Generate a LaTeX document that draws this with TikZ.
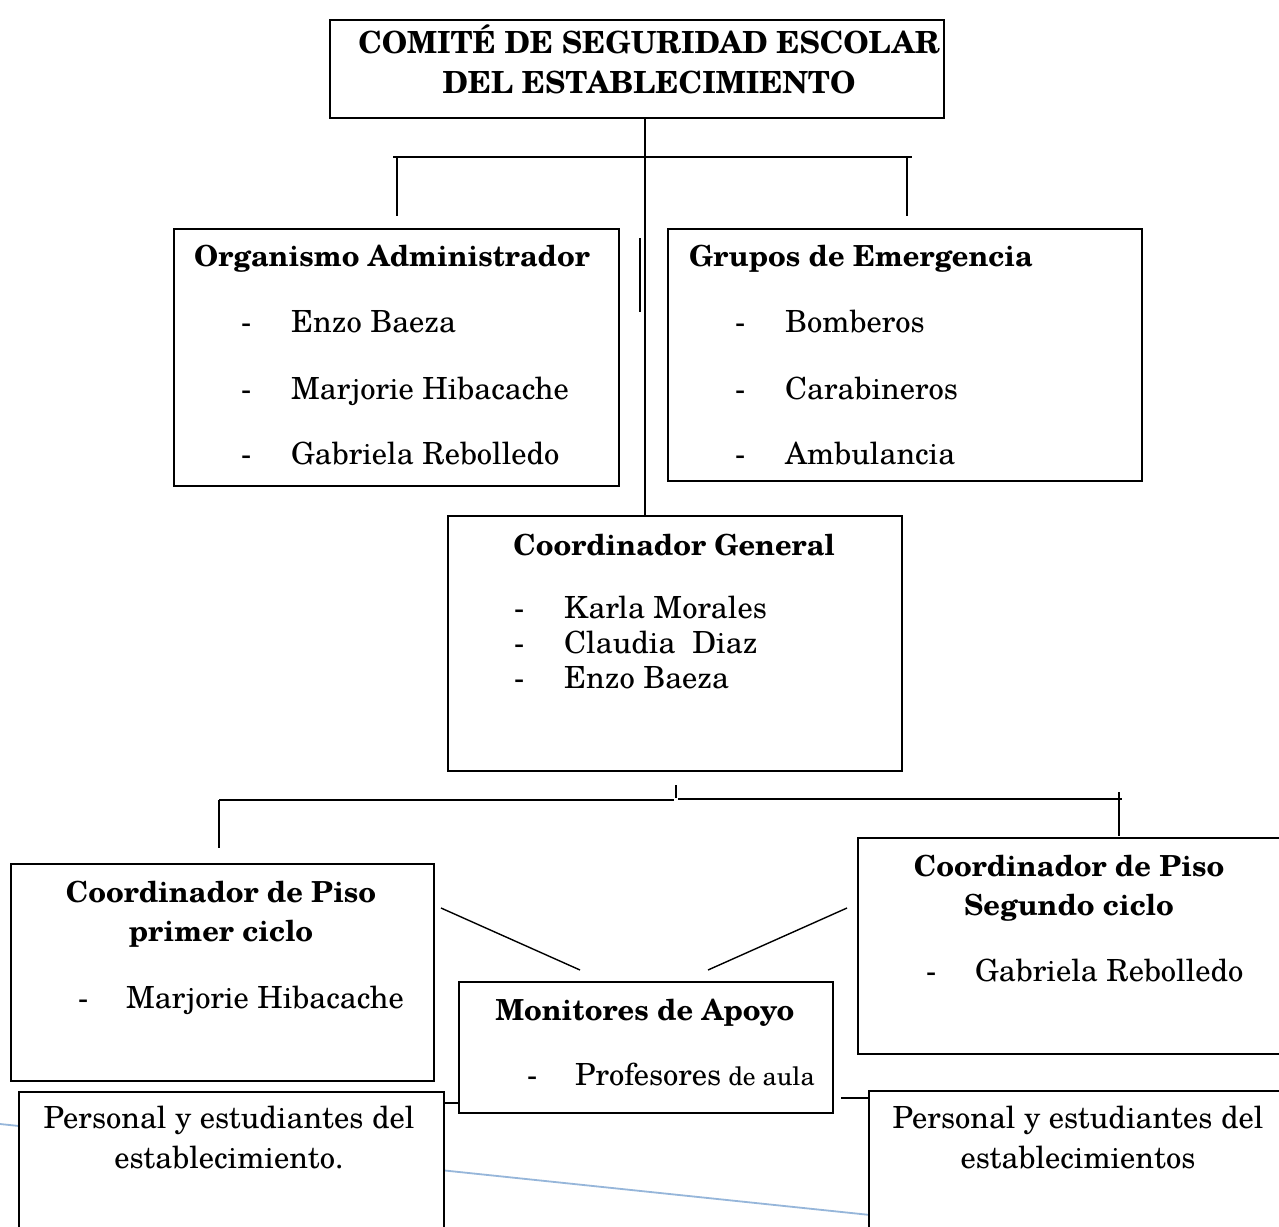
\documentclass[tikz,border=0pt]{standalone}
\usepackage{fontspec}
\setmainfont{TeX Gyre Schola}
\definecolor{paleblue}{RGB}{150,182,218}
\newcommand\txt{\fontsize{30.5}{36}\selectfont}
\newcommand\headtxt{\fontsize{29}{35}\selectfont\bfseries}
\newcommand\toptxt{\fontsize{30.5}{36}\selectfont\bfseries}
\newcommand\smalltxt{\fontsize{25.5}{30}\selectfont}
\tikzset{
  box/.style={draw, line width=1.6pt, fill=white, inner sep=0pt, anchor=north west},
  conn/.style={line width=1.4pt},
  lbl/.style={inner sep=0pt, font=\txt},
  head/.style={inner sep=0pt, font=\headtxt},
}
\begin{document}
\begin{tikzpicture}[x=1pt,y=-1pt]
\useasboundingbox (0,0) rectangle (1279,1226);
\fill[white] (0,0) rectangle (1279,1226);

% pale blue line (behind)
\coordinate (bl1) at (0,1124);
\coordinate (bl2) at (880,1216);
\draw[paleblue, line width=1.8pt] (bl1) -- (bl2);

% boxes
\node[box, minimum width=614pt, minimum height=98pt] (top) at (329,19) {};
\node[box, minimum width=445pt, minimum height=257pt] (org) at (173,228) {};
\node[box, minimum width=474pt, minimum height=252pt] (grp) at (667,228) {};
\node[box, minimum width=454pt, minimum height=255pt] (cg) at (447,515) {};
\node[box, minimum width=423pt, minimum height=217pt] (p1) at (10,863) {};
\node[box, minimum width=440pt, minimum height=216pt] (p2) at (857,837) {};
\node[box, minimum width=374pt, minimum height=131pt] (mon) at (458,981) {};
\node[box, minimum width=425pt, minimum height=160pt] (pe1) at (18,1091) {};
\node[box, minimum width=430pt, minimum height=160pt] (pe2) at (868,1090) {};

% connectors
\coordinate (vx) at (645,0);
\draw[conn] (top.south -| vx) -- (cg.north -| vx);
\coordinate (b1) at (393,157); \coordinate (b2) at (912,157);
\draw[conn] (b1) -- (b2);
\coordinate (d1a) at (397,157); \coordinate (d1b) at (397,216);
\coordinate (d2a) at (907,157); \coordinate (d2b) at (907,216);
\draw[conn] (d1a) -- (d1b);
\draw[conn] (d2a) -- (d2b);
\coordinate (s1) at (640,238); \coordinate (s2) at (640,312);
\draw[conn] (s1) -- (s2);

\coordinate (c1) at (676,785); \coordinate (c2) at (676,798);
\draw[conn] (c1) -- (c2);
\coordinate (h1) at (219,800); \coordinate (h2) at (674,800);
\coordinate (h3) at (678,799); \coordinate (h4) at (1122,799);
\draw[conn] (h1) -- (h2);
\draw[conn] (h3) -- (h4);
\coordinate (e1) at (219,800); \coordinate (e2) at (219,848);
\coordinate (f1) at (1119,792); \coordinate (f2) at (1119,836);
\draw[conn] (e1) -- (e2);
\draw[conn] (f1) -- (f2);

\coordinate (g1) at (441,908); \coordinate (g2) at (580,970);
\coordinate (k1) at (847,908); \coordinate (k2) at (708,970);
\draw[conn] (g1) -- (g2);
\draw[conn] (k1) -- (k2);

\draw[conn] (pe1.north east |- 0,1103) -- (mon.west |- 0,1103);
\draw[conn] (841,1098) coordinate (m1) -- (pe2.west |- m1);

% texts
\node[inner sep=0pt, font=\toptxt, anchor=base] (tt1) at (649,53) {COMITÉ DE SEGURIDAD ESCOLAR};
\node[inner sep=0pt, font=\toptxt, anchor=base] (tt2) at (649,93) {DEL ESTABLECIMIENTO};

\node[head, anchor=base west] (ot) at (194,266) {Organismo Administrador};
\node[lbl, anchor=base west] (od1) at (241,332) {-};
\node[lbl, anchor=base west] (o1) at (291,332) {Enzo Baeza};
\node[lbl, anchor=base west] (od2) at (241,399) {-};
\node[lbl, anchor=base west] (o2) at (291,399) {Marjorie Hibacache};
\node[lbl, anchor=base west] (od3) at (241,464) {-};
\node[lbl, anchor=base west] (o3) at (291,464) {Gabriela Rebolledo};

\node[head, anchor=base west] (gt) at (689,266) {Grupos de Emergencia};
\node[lbl, anchor=base west] (gd1) at (735,332) {-};
\node[lbl, anchor=base west] (g1t) at (785,332) {Bomberos};
\node[lbl, anchor=base west] (gd2) at (735,399) {-};
\node[lbl, anchor=base west] (g2t) at (785,399) {Carabineros};
\node[lbl, anchor=base west] (gd3) at (735,464) {-};
\node[lbl, anchor=base west] (g3t) at (785,464) {Ambulancia};

\node[head, anchor=base] (cgt) at (674,555) {Coordinador General};
\node[lbl, anchor=base west] (cd1) at (514,618) {-};
\node[lbl, anchor=base west] (c1t) at (564,618) {Karla Morales};
\node[lbl, anchor=base west] (cd2) at (514,653) {-};
\node[lbl, anchor=base west] (c2t) at (564,653) {Claudia\ \ Diaz};
\node[lbl, anchor=base west] (cd3) at (514,688) {-};
\node[lbl, anchor=base west] (c3t) at (564,688) {Enzo Baeza};

\node[head, anchor=base] (p1t1) at (221,902) {Coordinador de Piso};
\node[head, anchor=base] (p1t2) at (221,941) {primer ciclo};
\node[lbl, anchor=base west] (p1d) at (78,1008) {-};
\node[lbl, anchor=base west] (p1i) at (126,1008) {Marjorie Hibacache};

\node[head, anchor=base] (p2t1) at (1069,876) {Coordinador de Piso};
\node[head, anchor=base] (p2t2) at (1069,915) {Segundo ciclo};
\node[lbl, anchor=base west] (p2d) at (926,981) {-};
\node[lbl, anchor=base west] (p2i) at (975,981) {Gabriela Rebolledo};

\node[head, anchor=base] (mt) at (645,1020) {Monitores de Apoyo};
\node[lbl, anchor=base west] (md) at (527,1085) {-};
\node[lbl, anchor=base west] (mi) at (575,1085) {Profesores\hspace{7pt}{\smalltxt de aula}};

\node[lbl, anchor=base] (pe1a) at (229,1128) {Personal y estudiantes del};
\node[lbl, anchor=base] (pe1b) at (229,1168) {establecimiento.};
\node[lbl, anchor=base] (pe2a) at (1078,1128) {Personal y estudiantes del};
\node[lbl, anchor=base] (pe2b) at (1078,1168) {establecimientos};
\end{tikzpicture}
\end{document}
